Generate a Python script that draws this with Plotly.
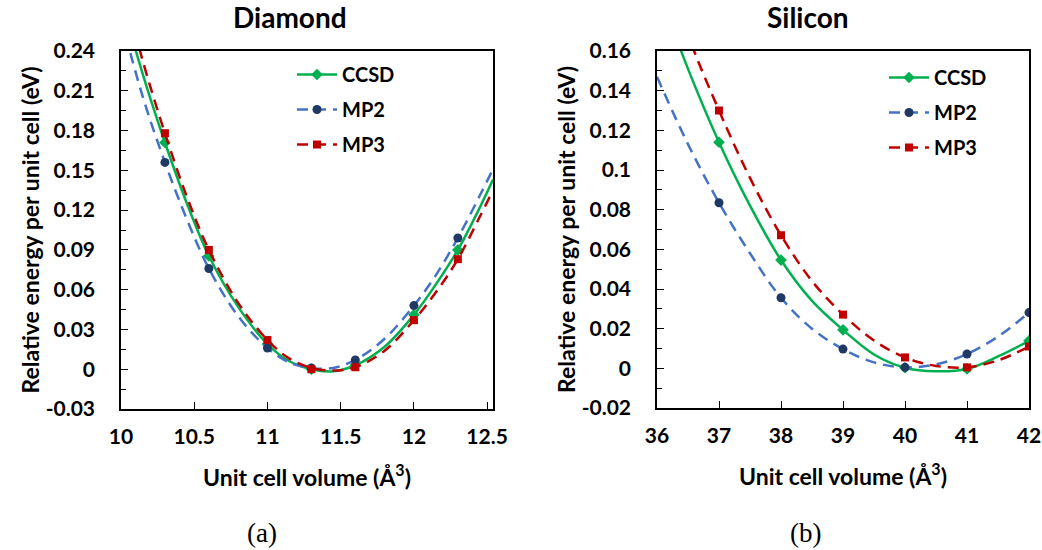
import plotly.graph_objects as go

# ---------------- Diamond data ----------------
dia_x = [10.3, 10.6, 11.0, 11.3, 11.6, 12.0, 12.3]
dia_ccsd = [0.171, 0.0854, 0.019, 0.0, 0.003, 0.041, 0.090]
dia_mp2 = [0.156, 0.076, 0.016, 0.001, 0.007, 0.048, 0.099]
dia_mp3 = [0.178, 0.090, 0.022, 0.0, 0.0015, 0.037, 0.083]

# fitted curves
dia_cx = [10.0, 10.15, 10.3, 10.45, 10.6, 10.8, 11.0, 11.15, 11.3, 11.45, 11.6, 11.8, 12.0, 12.15, 12.3, 12.45, 12.54]
dia_ccsd_c = [0.280, 0.222, 0.171, 0.125, 0.0854, 0.047, 0.019, 0.006, 0.0, -0.0015, 0.003, 0.017, 0.041, 0.064, 0.090, 0.122, 0.143]
dia_mp2_c = [0.265, 0.205, 0.156, 0.113, 0.076, 0.040, 0.016, 0.005, 0.0008, 0.001, 0.007, 0.023, 0.048, 0.071, 0.099, 0.131, 0.151]
dia_mp3_c = [0.295, 0.232, 0.178, 0.130, 0.090, 0.050, 0.022, 0.008, 0.001, -0.001, 0.0015, 0.014, 0.037, 0.058, 0.083, 0.115, 0.135]

# ---------------- Silicon data ----------------
si_x = [37, 38, 39, 40, 41, 42]
si_ccsd = [0.114, 0.0546, 0.0194, 0.0003, -0.0003, 0.0139]
si_mp2 = [0.0835, 0.0356, 0.0097, 0.0005, 0.0072, 0.0281]
si_mp3 = [0.130, 0.0671, 0.0271, 0.0055, 0.0005, 0.011]

si_cx = [36, 36.5, 37, 37.5, 38, 38.5, 39, 39.5, 40, 40.5, 41, 41.5, 42]
si_ccsd_c = [0.193, 0.151, 0.114, 0.082, 0.0546, 0.034, 0.0194, 0.007, 0.0003, -0.0015, -0.0003, 0.006, 0.0139]
si_mp2_c = [0.147, 0.113, 0.0835, 0.058, 0.0356, 0.020, 0.0097, 0.003, 0.0005, 0.002, 0.0072, 0.016, 0.0281]
si_mp3_c = [0.215, 0.168, 0.130, 0.096, 0.0671, 0.044, 0.0271, 0.014, 0.0055, 0.0012, 0.0005, 0.004, 0.011]

dia_yticks = [-0.03, 0, 0.03, 0.06, 0.09, 0.12, 0.15, 0.18, 0.21, 0.24]
dia_yticktext = ["-0.03", "0", "0.03", "0.06", "0.09", "0.12", "0.15", "0.18", "0.21", "0.24"]
dia_xticks = [10, 10.5, 11, 11.5, 12, 12.5]
dia_xticktext = ["10", "10.5", "11", "11.5", "12", "12.5"]
si_yticks = [-0.02, 0, 0.02, 0.04, 0.06, 0.08, 0.1, 0.12, 0.14, 0.16]
si_yticktext = ["-0.02", "0", "0.02", "0.04", "0.06", "0.08", "0.1", "0.12", "0.14", "0.16"]
si_xticks = [36, 37, 38, 39, 40, 41, 42]
si_xticktext = ["36", "37", "38", "39", "40", "41", "42"]

names = ["CCSD", "MP2", "MP3"]
line_colors = ["#00B050", "#4472C4", "#C00000"]
marker_colors = ["#00B050", "#203864", "#C00000"]
symbols = ["diamond", "circle", "square"]
dashes = ["solid", "11px,7px", "11px,7px"]

FONT = "Lato"
W, H = 1042, 550

def bold(lst):
    return ["<b>%s</b>" % t for t in lst]

fig = go.Figure()

panels = [
    (dia_x, [dia_ccsd, dia_mp2, dia_mp3], dia_cx, [dia_ccsd_c, dia_mp2_c, dia_mp3_c], "x", "y", "legend"),
    (si_x, [si_ccsd, si_mp2, si_mp3], si_cx, [si_ccsd_c, si_mp2_c, si_mp3_c], "x2", "y2", "legend2"),
]

for px, pys, cx, cys, xa, ya, lg in panels:
    for i in range(3):
        fig.add_trace(go.Scatter(
            x=cx, y=cys[i], mode="lines", xaxis=xa, yaxis=ya,
            line=dict(color=line_colors[i], width=2.5, dash=dashes[i], shape="spline", smoothing=1.0),
            showlegend=False, hoverinfo="skip"))
        fig.add_trace(go.Scatter(
            x=px, y=pys[i], mode="markers", xaxis=xa, yaxis=ya, name=names[i],
            marker=dict(color=marker_colors[i], symbol=symbols[i], size=9 if i != 2 else 8),
            showlegend=False))
        # legend entry
        fig.add_trace(go.Scatter(
            x=[None], y=[None], mode="lines+markers", xaxis=xa, yaxis=ya, name="<b>%s</b>" % names[i],
            legend=lg, legendgroup=lg + names[i],
            line=dict(color=line_colors[i], width=2.5, dash=dashes[i]),
            marker=dict(color=marker_colors[i], symbol=symbols[i], size=9 if i != 2 else 8)))

ax_common = dict(showline=True, linecolor="black", linewidth=1.5, mirror=True,
                 showgrid=False, zeroline=False, ticks="inside", tickcolor="black",
                 tickfont=dict(family=FONT, size=21, color="black"),
                 automargin=False)

TITLE_FONT = dict(family=FONT, size=23, color="black")

def px2x(p):
    return p / W

def py2y(p):
    return 1 - p / H

fig.update_layout(
    width=W, height=H,
    margin=dict(l=0, r=0, t=0, b=0),
    paper_bgcolor="white", plot_bgcolor="white",
    font=dict(family=FONT, color="black"),
    xaxis=dict(domain=[px2x(121), px2x(493)], range=[10, 12.54], anchor="y",
               tickvals=dia_xticks, ticktext=bold(dia_xticktext), ticklen=7, ticklabelstandoff=8,
               title=dict(text="<b>Unit cell volume (Å<sup>3</sup>)</b>", font=TITLE_FONT, standoff=23),
               **ax_common),
    yaxis=dict(domain=[py2y(409), py2y(51)], range=[-0.03, 0.24], anchor="x",
               tickvals=dia_yticks, ticktext=bold(dia_yticktext), ticklen=7, ticklabelstandoff=20,
               minor=dict(ticks="inside", ticklen=5, dtick=0.015, tick0=0, tickcolor="black"),
               title=dict(text="<b>Relative energy per unit cell (eV)</b>", font=TITLE_FONT, standoff=0),
               **ax_common),
    xaxis2=dict(domain=[px2x(657), px2x(1029)], range=[36, 42], anchor="y2",
                tickvals=si_xticks, ticktext=bold(si_xticktext), ticklen=7, ticklabelstandoff=8,
                title=dict(text="<b>Unit cell volume (Å<sup>3</sup>)</b>", font=TITLE_FONT, standoff=23),
                **ax_common),
    yaxis2=dict(domain=[py2y(408), py2y(51)], range=[-0.02, 0.16], anchor="x2",
                tickvals=si_yticks, ticktext=bold(si_yticktext), ticklen=7, ticklabelstandoff=20,
                minor=dict(ticks="inside", ticklen=5, dtick=0.01, tick0=0, tickcolor="black"),
                title=dict(text="<b>Relative energy per unit cell (eV)</b>", font=TITLE_FONT, standoff=0),
                **ax_common),
    legend=dict(x=px2x(292), y=py2y(55), xanchor="left", yanchor="top",
                bgcolor="rgba(0,0,0,0)", font=dict(family=FONT, size=20, color="black", weight="bold"),
                traceorder="grouped", tracegroupgap=6, itemwidth=40),
    legend2=dict(x=px2x(884), y=py2y(58), xanchor="left", yanchor="top",
                 bgcolor="rgba(0,0,0,0)", font=dict(family=FONT, size=20, color="black", weight="bold"),
                 traceorder="grouped", tracegroupgap=6, itemwidth=40),
    annotations=[
        dict(text="<b>Diamond</b>", x=px2x(290), y=py2y(17), xref="paper", yref="paper",
             xanchor="center", yanchor="middle",
             showarrow=False, font=dict(family=FONT, size=28, color="black")),
        dict(text="<b>Silicon</b>", x=px2x(808), y=py2y(17), xref="paper", yref="paper",
             xanchor="center", yanchor="middle",
             showarrow=False, font=dict(family=FONT, size=28, color="black")),
        dict(text="(a)", x=px2x(262), y=py2y(533), xref="paper", yref="paper",
             xanchor="center", yanchor="middle",
             showarrow=False, font=dict(family="Liberation Serif", size=27, color="black")),
        dict(text="(b)", x=px2x(805), y=py2y(533), xref="paper", yref="paper",
             xanchor="center", yanchor="middle",
             showarrow=False, font=dict(family="Liberation Serif", size=27, color="black")),
    ],
)

fig.write_html("out.html")
